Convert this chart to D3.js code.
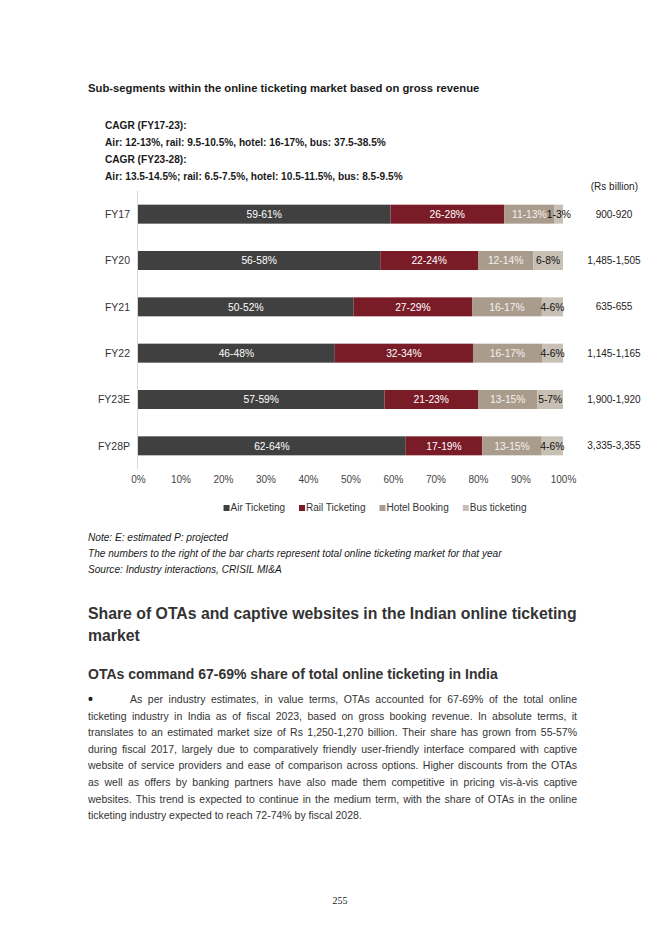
<!DOCTYPE html>
<html><head><meta charset="utf-8">
<script src="https://cdn.jsdelivr.net/npm/d3@7/dist/d3.min.js"></script>
<style>
body{margin:0;background:#fff;}
svg{display:block;font-family:"Liberation Sans",Arial,sans-serif;}
</style></head>
<body>
<svg id="page" width="670" height="947"></svg>
<script>
// ---- Data ----
const years = ["FY17","FY20","FY21","FY22","FY23E","FY28P"];
const segments = ["Air Ticketing","Rail Ticketing","Hotel Booking","Bus ticketing"];
// midpoint of each reported range (%)
const air   = [60, 57, 51, 47, 58, 63];
const rail  = [27, 23, 28, 33, 22, 18];
const hotel = [12, 13, 16.5, 16.5, 14, 14];
const bus   = [2, 7, 5, 5, 6, 5];
const airLabels   = ["59-61%","56-58%","50-52%","46-48%","57-59%","62-64%"];
const railLabels  = ["26-28%","22-24%","27-29%","32-34%","21-23%","17-19%"];
const hotelLabels = ["11-13%","12-14%","16-17%","16-17%","13-15%","13-15%"];
const busLabels   = ["1-3%","6-8%","4-6%","4-6%","5-7%","4-6%"];
const totals = ["900-920","1,485-1,505","635-655","1,145-1,165","1,900-1,920","3,335-3,355"];
const xTicks = [0,0.1,0.2,0.3,0.4,0.5,0.6,0.7,0.8,0.9,1];
const colors = ["#404040","#7a1c28","#a99c8d","#c8c0b5"];
const labelColors = ["#ffffff","#ffffff","#f4f0ec","#111111"];

const cagrLines = [
 "CAGR (FY17-23):",
 "Air: 12-13%, rail: 9.5-10.5%, hotel: 16-17%, bus: 37.5-38.5%",
 "CAGR (FY23-28):",
 "Air: 13.5-14.5%; rail: 6.5-7.5%, hotel: 10.5-11.5%, bus: 8.5-9.5%"
];
const noteLines = [
 "Note: E: estimated P: projected",
 "The numbers to the right of the bar charts represent total online ticketing market for that year",
 "Source: Industry interactions, CRISIL MI&A"
];
const paraLines = [
 "As per industry estimates, in value terms, OTAs accounted for 67-69% of the total online",
 "ticketing industry in India as of fiscal 2023, based on gross booking revenue. In absolute terms, it",
 "translates to an estimated market size of Rs 1,250-1,270 billion. Their share has grown from 55-57%",
 "during fiscal 2017, largely due to comparatively friendly user-friendly interface compared with captive",
 "website of service providers and ease of comparison across options. Higher discounts from the OTAs",
 "as well as offers by banking partners have also made them competitive in pricing vis-à-vis captive",
 "websites. This trend is expected to continue in the medium term, with the share of OTAs in the online",
 "ticketing industry expected to reach 72-74% by fiscal 2028."
];

const svg = d3.select("#page");

// ---- Header texts ----
svg.append("text").attr("x",88).attr("y",92).attr("font-size",11.25).attr("font-weight","bold")
  .attr("fill","#1a1a1a").text("Sub-segments within the online ticketing market based on gross revenue");
svg.selectAll("text.cagr").data(cagrLines).join("text").attr("class","cagr")
  .attr("x",105).attr("y",(d,i)=>129+i*17).attr("font-size",10.15).attr("font-weight","bold")
  .attr("fill","#1a1a1a").text(d=>d);
svg.append("text").attr("x",638).attr("y",190).attr("text-anchor","end").attr("font-size",10)
  .attr("fill","#222").text("(Rs billion)");

// ---- Chart ----
const x = d3.scaleLinear().domain([0,1]).range([138,563]);
const y = d3.scaleBand().domain(years).range([191,469]).paddingInner(0.59).paddingOuter(0.295);

const rows = years.map((yr,i)=>({year:yr,"Air Ticketing":air[i],"Rail Ticketing":rail[i],"Hotel Booking":hotel[i],"Bus ticketing":bus[i]}));
const labelsBySeg = [airLabels,railLabels,hotelLabels,busLabels];
const stack = d3.stack().keys(segments).offset(d3.stackOffsetExpand);
const series = stack(rows);

// axis line
svg.append("line").attr("x1",x(0)-0.5).attr("x2",x(0)-0.5).attr("y1",191).attr("y2",469)
  .attr("stroke","#d9d9d9").attr("stroke-width",1);

const g = svg.append("g");
series.forEach((s,si)=>{
  g.selectAll(null).data(s).join("rect")
    .attr("x",d=>x(d[0])).attr("width",d=>x(d[1])-x(d[0]))
    .attr("y",d=>y(d.data.year)).attr("height",y.bandwidth())
    .attr("fill",colors[si]);
});
series.forEach((s,si)=>{
  g.selectAll(null).data(s).join("text")
    .attr("x",d=>(x(d[0])+x(d[1]))/2).attr("y",d=>y(d.data.year)+y.bandwidth()/2+3.7)
    .attr("text-anchor","middle").attr("font-size",10.3).attr("fill",labelColors[si])
    .text((d,i)=>labelsBySeg[si][i]);
});

// y axis labels
svg.selectAll("text.ylab").data(years).join("text").attr("class","ylab")
  .attr("x",130).attr("y",d=>y(d)+y.bandwidth()/2+3.8).attr("text-anchor","end")
  .attr("font-size",10.5).attr("fill","#333").text(d=>d);

// totals on right
svg.selectAll("text.tot").data(totals).join("text").attr("class","tot")
  .attr("x",614).attr("y",(d,i)=>y(years[i])+y.bandwidth()/2+3.6).attr("text-anchor","middle")
  .attr("font-size",10).attr("fill","#222").text(d=>d);

// x axis
const xAxis = d3.axisBottom(x).tickValues(xTicks).tickFormat(d3.format(".0%")).tickSize(0).tickPadding(0);
const ax = svg.append("g").attr("transform","translate(0,476)").call(xAxis);
ax.select(".domain").remove();
ax.selectAll("text").attr("font-size",10).attr("fill","#444").attr("font-family","Liberation Sans, Arial, sans-serif");

// legend
const leg = svg.append("g");
let lx = 0;
const items = [];
segments.forEach((s,i)=>{
  const it = leg.append("g");
  it.append("rect").attr("x",0).attr("y",-6).attr("width",6).attr("height",6).attr("fill",colors[i]);
  const t = it.append("text").attr("x",7).attr("y",0).attr("font-size",10).attr("fill","#333").text(s);
  const w = 7 + t.node().getComputedTextLength();
  items.push({it,w});
});
const gap = 14;
const totalW = d3.sum(items,d=>d.w) + gap*(items.length-1);
lx = 375 - totalW/2;
items.forEach(d=>{ d.it.attr("transform",`translate(${lx},511)`); lx += d.w + gap; });

// ---- Notes ----
svg.selectAll("text.note").data(noteLines).join("text").attr("class","note")
  .attr("x",88).attr("y",(d,i)=>541+i*16).attr("font-size",10.12).attr("font-style","italic")
  .attr("fill","#1a1a1a").text(d=>d);

// ---- Section headings ----
svg.append("text").attr("x",88).attr("y",619).attr("font-size",15.8).attr("font-weight","bold")
  .attr("fill","#333").text("Share of OTAs and captive websites in the Indian online ticketing");
svg.append("text").attr("x",88).attr("y",641).attr("font-size",15.8).attr("font-weight","bold")
  .attr("fill","#333").text("market");
svg.append("text").attr("x",88).attr("y",679).attr("font-size",14).attr("font-weight","bold")
  .attr("fill","#333").text("OTAs command 67-69% share of total online ticketing in India");

// ---- Paragraph (justified) ----
svg.append("text").attr("x",88).attr("y",704).attr("font-size",14).attr("font-weight","bold").attr("fill","#222").text("•");
const right = 577;
paraLines.forEach((line,i)=>{
  const lx0 = i===0 ? 130 : 88;
  const t = svg.append("text").attr("x",lx0).attr("y",703+i*16.6).attr("font-size",10.5)
    .attr("fill","#333").text(line);
  if(i < paraLines.length-1){
    const L = t.node().getComputedTextLength();
    const spaces = (line.match(/ /g)||[]).length;
    const extra = (right - lx0 - L)/spaces;
    t.style("word-spacing", extra+"px");
  }
});

// page number
svg.append("text").attr("x",340).attr("y",904).attr("text-anchor","middle").attr("font-size",10)
  .attr("font-family","Liberation Serif, Times New Roman, serif").attr("fill","#222").text("255");
</script>
</body></html>
